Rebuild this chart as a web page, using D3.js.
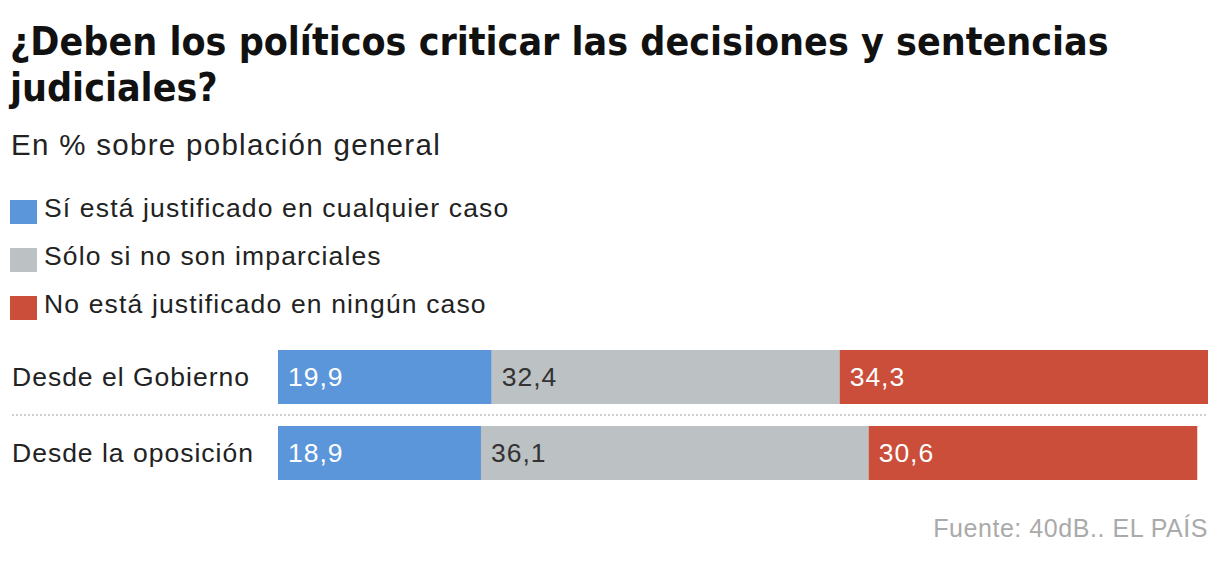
<!DOCTYPE html>
<html><head><meta charset="utf-8">
<script src="https://cdn.jsdelivr.net/npm/d3@7"></script>
<style>
body{margin:0;background:#fff;}
svg{display:block;}
</style></head>
<body><svg id="chart" width="1220" height="564"></svg>
<script>
const categories = ["Desde el Gobierno", "Desde la oposición"];
const seriesNames = ["Sí está justificado en cualquier caso", "Sólo si no son imparciales", "No está justificado en ningún caso"];
const siJustificado = [19.9, 18.9];
const soloSi = [32.4, 36.1];
const noJustificado = [34.3, 30.6];
const colors = ["#5b95da", "#bcc1c4", "#cb4e3a"];
const labelColors = ["#ffffff", "#333333", "#ffffff"];

const svg = d3.select("#chart");
const titleFont = "'DejaVu Sans Condensed', sans-serif";
const bodyFont = "'Liberation Sans', Arial, sans-serif";

svg.append("text").attr("x", 10).attr("y", 55).attr("font-family", titleFont).attr("font-weight", 700)
  .attr("font-size", 39).attr("fill", "#111").text("¿Deben los políticos criticar las decisiones y sentencias");
svg.append("text").attr("x", 10).attr("y", 101).attr("font-family", titleFont).attr("font-weight", 700)
  .attr("font-size", 39).attr("fill", "#111").text("judiciales?");
svg.append("text").attr("x", 11).attr("y", 155).attr("font-family", bodyFont).attr("letter-spacing", 1.3)
  .attr("font-size", 29.5).attr("fill", "#222").text("En % sobre población general");

const legend = svg.append("g");
seriesNames.forEach((n, i) => {
  const g = legend.append("g").attr("transform", `translate(10,${200 + i * 48})`);
  g.append("rect").attr("width", 27).attr("height", 24).attr("fill", colors[i]);
  g.append("text").attr("x", 34).attr("y", 17).attr("font-family", bodyFont).attr("font-size", 26.5)
    .attr("letter-spacing", 1.15).attr("fill", "#222").text(n);
});

const data = categories.map((c, i) => ({cat: c, vals: [siJustificado[i], soloSi[i], noJustificado[i]]}));
const maxTotal = d3.max(data, d => d3.sum(d.vals));
const x = d3.scaleLinear().domain([0, maxTotal]).range([278, 1208]);
const y = d3.scaleBand().domain(categories).range([350, 480]).paddingInner(22 / 76).paddingOuter(0);

const stack = d3.stack().keys([0, 1, 2]).value((d, k) => d.vals[k]);
const series = stack(data);

series.forEach((s, si) => {
  svg.append("g").selectAll("rect").data(s).join("rect")
    .attr("x", d => x(d[0])).attr("width", d => x(d[1]) - x(d[0]))
    .attr("y", d => y(d.data.cat)).attr("height", y.bandwidth())
    .attr("fill", colors[si]);
  svg.append("g").selectAll("text").data(s).join("text")
    .attr("x", d => x(d[0]) + 10).attr("y", d => y(d.data.cat) + y.bandwidth() / 2 + 9)
    .attr("font-family", bodyFont).attr("font-size", 26.5).attr("letter-spacing", 1.0).attr("fill", labelColors[si])
    .text(d => d3.format(".1f")(d[1] - d[0]).replace(".", ","));
});

svg.append("g").selectAll("text").data(categories).join("text")
  .attr("x", 12).attr("y", d => y(d) + y.bandwidth() / 2 + 9)
  .attr("font-family", bodyFont).attr("font-size", 26.5).attr("letter-spacing", 1.0).attr("fill", "#222").text(d => d);

svg.append("line").attr("x1", 12).attr("x2", 1208).attr("y1", 415).attr("y2", 415)
  .attr("stroke", "#d0d0d0").attr("stroke-width", 2).attr("stroke-dasharray", "2,2");

svg.append("text").attr("x", 1208).attr("y", 537).attr("text-anchor", "end").attr("font-family", bodyFont)
  .attr("font-size", 25).attr("letter-spacing", 0.55).attr("fill", "#aaa").text("Fuente: 40dB.. EL PAÍS");
</script></body></html>
